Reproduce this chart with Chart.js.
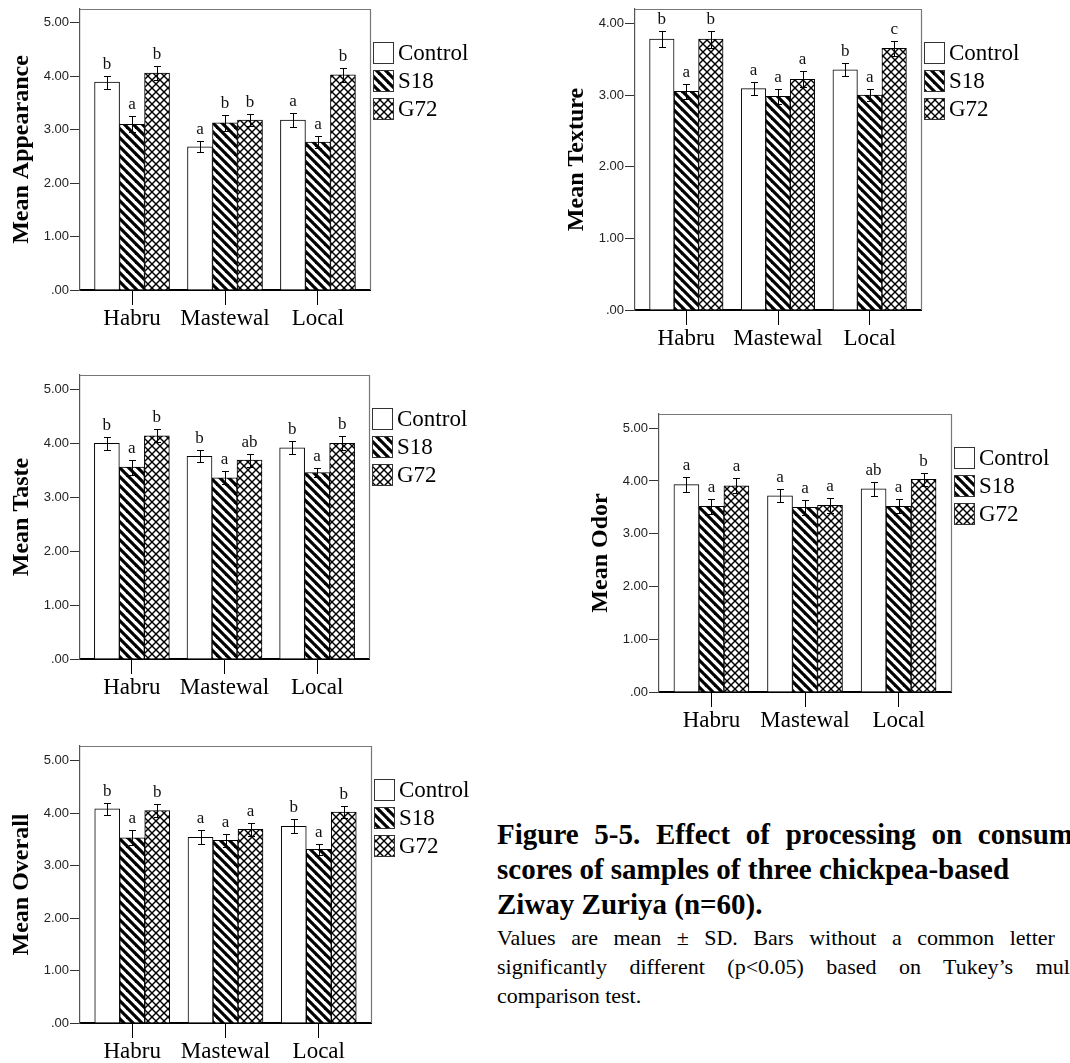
<!DOCTYPE html>
<html><head><meta charset="utf-8">
<script src="https://cdn.jsdelivr.net/npm/chart.js@4/dist/chart.umd.min.js"></script>
<style>
html,body{margin:0;padding:0;background:#fff;width:1070px;height:1063px;overflow:hidden;position:relative;}
canvas{position:absolute;}
#caption{position:absolute;left:497px;top:817px;font-family:'Liberation Serif','Times New Roman',serif;white-space:nowrap;color:#000;}
#caption .t{font-weight:bold;font-size:29px;line-height:35px;}
#caption .n{font-size:22px;line-height:29px;margin-top:1px;}
#caption span{display:block;}
</style></head><body>
<canvas id="c1"></canvas><canvas id="c2"></canvas><canvas id="c3"></canvas><canvas id="c4"></canvas><canvas id="c5"></canvas>
<div id="caption"><div class="t"><span style="word-spacing:8.5px">Figure 5-5. Effect of processing on consumer</span><span>scores of samples of three chickpea-based</span><span>Ziway Zuriya (n=60).</span></div><div class="n"><span style="word-spacing:10px">Values are mean ± SD. Bars without a common letter are</span><span style="word-spacing:17px">significantly different (p&lt;0.05) based on Tukey’s multiple</span><span>comparison test.</span></div></div>
<script>
// ---------- data ----------
const CATEGORIES = ['Habru', 'Mastewal', 'Local'];
const SERIES = ['Control', 'S18', 'G72'];

// rows: Control, S18, G72 ; columns: Habru, Mastewal, Local
const APPEARANCE_MEAN = [[3.89, 2.68, 3.18], [3.10, 3.13, 2.77], [4.06, 3.18, 4.03]];
const APPEARANCE_SD   = [[0.12, 0.10, 0.13], [0.15, 0.15, 0.12], [0.13, 0.11, 0.13]];
const APPEARANCE_LETTERS = [['b', 'a', 'a'], ['a', 'b', 'a'], ['b', 'b', 'b']];

const TEXTURE_MEAN = [[3.78, 3.09, 3.35], [3.05, 2.98, 3.00], [3.78, 3.22, 3.65]];
const TEXTURE_SD   = [[0.11, 0.09, 0.09], [0.10, 0.10, 0.09], [0.12, 0.11, 0.10]];
const TEXTURE_LETTERS = [['b', 'a', 'b'], ['a', 'a', 'a'], ['b', 'a', 'c']];

const TASTE_MEAN = [[4.00, 3.76, 3.92], [3.56, 3.36, 3.46], [4.14, 3.69, 4.00]];
const TASTE_SD   = [[0.12, 0.11, 0.12], [0.14, 0.12, 0.09], [0.12, 0.12, 0.13]];
const TASTE_LETTERS = [['b', 'b', 'b'], ['a', 'a', 'a'], ['b', 'ab', 'b']];

const ODOR_MEAN = [[3.93, 3.72, 3.85], [3.52, 3.50, 3.52], [3.91, 3.54, 4.03]];
const ODOR_SD   = [[0.14, 0.12, 0.13], [0.14, 0.14, 0.13], [0.14, 0.14, 0.13]];
const ODOR_LETTERS = [['a', 'a', 'ab'], ['a', 'a', 'a'], ['a', 'a', 'b']];

const OVERALL_MEAN = [[4.08, 3.54, 3.75], [3.53, 3.48, 3.31], [4.05, 3.69, 4.02]];
const OVERALL_SD   = [[0.12, 0.13, 0.13], [0.14, 0.13, 0.10], [0.13, 0.13, 0.12]];
const OVERALL_LETTERS = [['b', 'a', 'b'], ['a', 'a', 'a'], ['b', 'a', 'b']];

const Y_TITLES = ['Mean Appearance', 'Mean Texture', 'Mean Taste', 'Mean Odor', 'Mean Overall'];
const Y_MAX = [5.26, 4.2, 5.27, 5.27, 5.28];

// ---------- styling helpers ----------
const SERIF = "'Liberation Serif', 'Times New Roman', serif";
const SANS = "'Liberation Sans', Arial, sans-serif";

function hatchPattern() {
  const s = 9, c = document.createElement('canvas'); c.width = s; c.height = s;
  const g = c.getContext('2d');
  g.fillStyle = '#fff'; g.fillRect(0, 0, s, s);
  g.strokeStyle = '#000'; g.lineWidth = 3.2;
  for (let k = -1; k <= 1; k++) { g.beginPath(); g.moveTo(k * s - 2, -2); g.lineTo(k * s + s + 2, s + 2); g.stroke(); }
  return g.createPattern(c, 'repeat');
}
function crossPattern() {
  const s = 8, c = document.createElement('canvas'); c.width = s; c.height = s;
  const g = c.getContext('2d');
  g.fillStyle = '#fff'; g.fillRect(0, 0, s, s);
  g.strokeStyle = '#000'; g.lineWidth = 1.4;
  for (let k = -1; k <= 1; k++) {
    g.beginPath(); g.moveTo(k * s - 2, -2); g.lineTo(k * s + s + 2, s + 2); g.stroke();
    g.beginPath(); g.moveTo(k * s - 2, s + 2); g.lineTo(k * s + s + 2, -2); g.stroke();
  }
  return g.createPattern(c, 'repeat');
}
const FILLS = ['#ffffff', hatchPattern(), crossPattern()];

// frame positions of each panel's plot box (page px)
const FRAMES = [
  {l: 80, t: 9, r: 370, b: 290},
  {l: 635, t: 9, r: 921, b: 310},
  {l: 80, t: 375, r: 369, b: 659},
  {l: 659, t: 414, r: 951, b: 692},
  {l: 80, t: 746, r: 371, b: 1023}
];
const LEFT_W = 80, TOP_P = 9, RIGHT_W = 125, BOTTOM_H = 62;

function makePanel(idx, means, sds, letters) {
  const f = FRAMES[idx];
  const cv = document.getElementById('c' + (idx + 1));
  const W = f.r - f.l + LEFT_W + RIGHT_W, H = f.b - f.t + TOP_P + BOTTOM_H;
  cv.width = W; cv.height = H;
  cv.style.left = (f.l - LEFT_W) + 'px'; cv.style.top = (f.t - TOP_P) + 'px';
  cv.style.width = W + 'px'; cv.style.height = H + 'px';

  const datasets = SERIES.map((name, s) => ({
    label: name,
    data: means[s].map((v, i) => ({x: i, y: v})),
    backgroundColor: FILLS[s],
    borderColor: '#000',
    borderWidth: 1,
    borderSkipped: 'start',
    barThickness: idx === 1 ? 24.5 : 25
  }));

  const extras = {
    id: 'extras' + idx,
    afterDatasetsDraw(chart) {
      const ctx = chart.ctx, ys = chart.scales.y;
      ctx.save();
      ctx.strokeStyle = '#000'; ctx.lineWidth = 1;
      ctx.fillStyle = '#111'; ctx.font = '17px ' + SERIF;
      ctx.textAlign = 'center'; ctx.textBaseline = 'alphabetic';
      chart.data.datasets.forEach((ds, s) => {
        const meta = chart.getDatasetMeta(s);
        meta.data.forEach((bar, i) => {
          const m = means[s][i], sd = sds[s][i];
          const yt = Math.round(ys.getPixelForValue(m + sd)) + 0.5;
          const yb = Math.round(ys.getPixelForValue(m - sd)) + 0.5;
          const x = Math.round(bar.x) + 0.5;
          ctx.beginPath();
          ctx.moveTo(x, yt); ctx.lineTo(x, yb);
          ctx.moveTo(x - 3.5, yt); ctx.lineTo(x + 3.5, yt);
          ctx.moveTo(x - 3.5, yb); ctx.lineTo(x + 3.5, yb);
          ctx.stroke();
          ctx.fillText(letters[s][i], bar.x, yt - 8);
        });
      });
      ctx.restore();
    },
    afterDraw(chart) {
      const ctx = chart.ctx, a = chart.chartArea;
      ctx.save();
      // frame top & right
      ctx.strokeStyle = '#777'; ctx.lineWidth = 1.2;
      ctx.beginPath();
      ctx.moveTo(a.left, a.top + 0.5); ctx.lineTo(a.right + 0.5, a.top + 0.5); ctx.lineTo(a.right + 0.5, a.bottom);
      ctx.stroke();
      // legend
      ctx.font = '23px ' + SERIF; ctx.textAlign = 'left'; ctx.textBaseline = 'middle';
      chart.data.datasets.forEach((ds, s) => {
        const bx = a.right + 3, by = a.top + 33 + s * 28;
        ctx.fillStyle = ds.backgroundColor; ctx.fillRect(bx, by, 20, 21);
        ctx.strokeStyle = '#333'; ctx.lineWidth = 1; ctx.strokeRect(bx + 0.5, by + 0.5, 20, 21);
        ctx.fillStyle = '#000'; ctx.fillText(ds.label, bx + 25, by + 12);
      });
      ctx.restore();
    }
  };

  return new Chart(cv, {
    type: 'bar',
    data: {datasets},
    options: {
      responsive: false, animation: false, devicePixelRatio: 1,
      layout: {padding: {left: 0, top: TOP_P, right: RIGHT_W, bottom: 0}},
      plugins: {legend: {display: false}, tooltip: {enabled: false}},
      scales: {
        x: {
          type: 'linear', min: -0.56, max: 2.56, offset: false,
          afterBuildTicks: sc => { sc.ticks = CATEGORIES.map((c, i) => ({value: i})); },
          afterFit: sc => { sc.height = BOTTOM_H; },
          ticks: {callback: v => CATEGORIES[v], font: {family: SERIF, size: 23}, color: '#000', padding: 0, autoSkip: false, maxRotation: 0},
          grid: {drawOnChartArea: false, drawTicks: true, tickLength: 15, color: '#000', lineWidth: 1, offset: false},
          border: {display: true, color: '#000', width: 2}
        },
        y: {
          min: 0, max: Y_MAX[idx],
          afterFit: sc => { sc.width = LEFT_W; },
          ticks: {stepSize: 1, includeBounds: false, callback: v => v === 0 ? '.00' : v.toFixed(2), font: {family: SANS, size: 13}, color: '#222', padding: 1},
          grid: {drawOnChartArea: false, drawTicks: true, tickLength: 10, color: '#333', lineWidth: 1},
          border: {display: true, color: '#555', width: 1.2},
          title: {display: true, text: Y_TITLES[idx], font: {family: SERIF, size: 24, weight: 'bold'}, color: '#000', padding: {top: 7, bottom: 0}}
        }
      }
    },
    plugins: [extras]
  });
}

makePanel(0, APPEARANCE_MEAN, APPEARANCE_SD, APPEARANCE_LETTERS);
makePanel(1, TEXTURE_MEAN, TEXTURE_SD, TEXTURE_LETTERS);
makePanel(2, TASTE_MEAN, TASTE_SD, TASTE_LETTERS);
makePanel(3, ODOR_MEAN, ODOR_SD, ODOR_LETTERS);
makePanel(4, OVERALL_MEAN, OVERALL_SD, OVERALL_LETTERS);
</script>
</body></html>
